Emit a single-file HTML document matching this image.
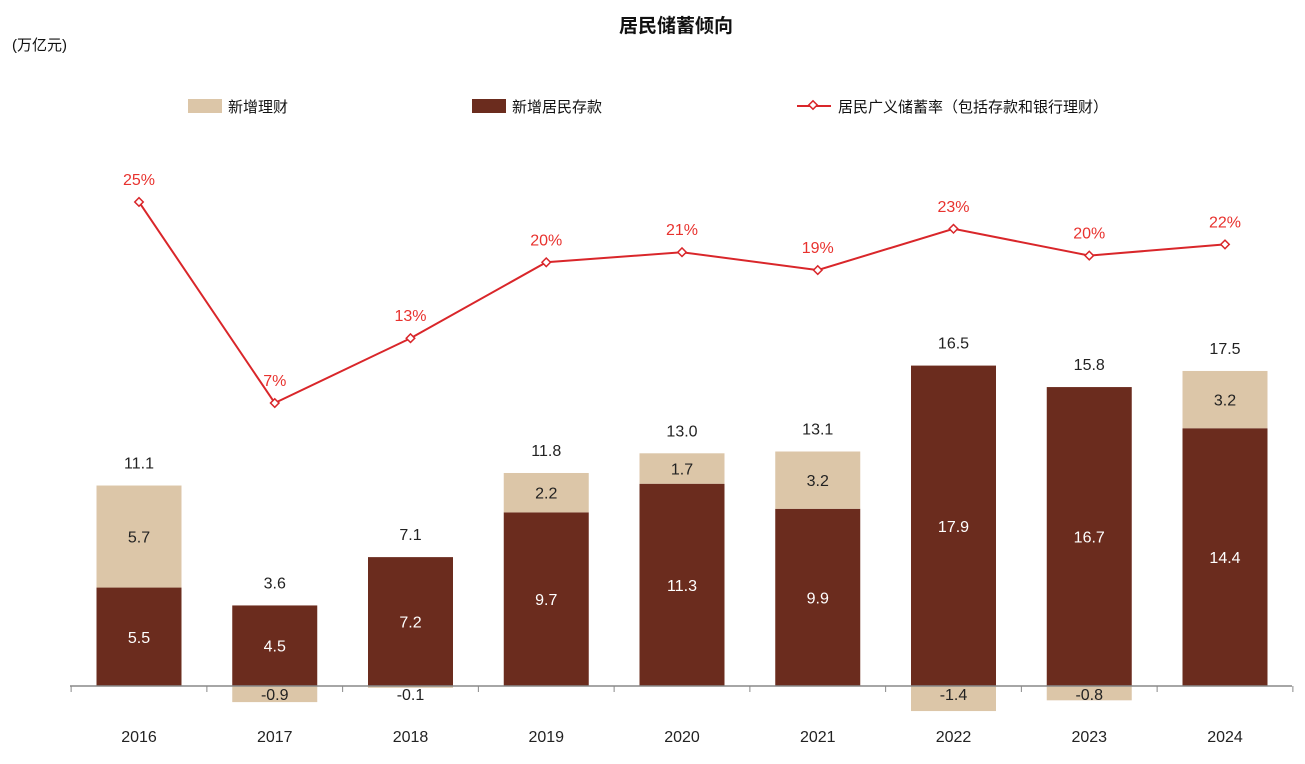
<!DOCTYPE html>
<html><head><meta charset="utf-8"><style>
html,body{margin:0;padding:0;background:#fff;}
body{width:1305px;height:759px;overflow:hidden;font-family:"Liberation Sans","Noto Sans CJK SC",sans-serif;}
</style></head><body>
<svg id="chart" width="1305" height="759" xmlns="http://www.w3.org/2000/svg" font-family="Liberation Sans, Noto Sans CJK SC, sans-serif">
<text x="676" y="32" text-anchor="middle" font-size="19" font-weight="bold" fill="#111">居民储蓄倾向</text>
<text x="12" y="50" font-size="15" fill="#111">(万亿元)</text>
<g>
<rect x="188" y="99" width="34" height="14" fill="#DCC6A8"/>
<text x="228" y="112" font-size="15" fill="#111">新增理财</text>
<rect x="472" y="99" width="34" height="14" fill="#6B2C1E"/>
<text x="512" y="112" font-size="15" fill="#111">新增居民存款</text>
<line x1="797" y1="106" x2="831" y2="106" stroke="#D9262A" stroke-width="2"/>
<rect x="810" y="102" width="6" height="6" transform="rotate(45 813 105)" fill="#fff" stroke="#D9262A" stroke-width="1.5"/>
<text x="838" y="112" font-size="15" fill="#111">居民广义储蓄率（包括存款和银行理财）</text>
</g>
<g id="plot"></g>
</svg>
<script>
const years=["2016","2017","2018","2019","2020","2021","2022","2023","2024"];
const deposits=[5.5,4.5,7.2,9.7,11.3,9.9,17.9,16.7,14.4];
const wealth=[5.7,-0.9,-0.1,2.2,1.7,3.2,-1.4,-0.8,3.2];
const totals=[11.1,3.6,7.1,11.8,13.0,13.1,16.5,15.8,17.5];
const rates=[25.0,7.0,12.8,19.6,20.5,18.9,22.6,20.2,21.2];
const rateLabels=["25%","7%","13%","20%","21%","19%","23%","20%","22%"];

const NS="http://www.w3.org/2000/svg";
const g=document.getElementById('plot');
const base=686, unit=17.9, x0=139, step=135.75, bw=85;
const xc=i=>x0+i*step;
const yv=v=>base-v*unit;
const yr=r=>481.2-r*11.17;
function mk(t,a){const e=document.createElementNS(NS,t);for(const k in a)e.setAttribute(k,a[k]);g.appendChild(e);return e;}
function txt(x,y,s,fill,size){const e=mk('text',{x:x,y:y,'text-anchor':'middle','font-size':size||15,fill:fill});e.textContent=s;return e;}

years.forEach((yr_,i)=>{
  const d=deposits[i], w=wealth[i], x=xc(i)-bw/2;
  const r1=mk('rect',{x:x,y:yv(d),width:bw,height:d*unit,fill:'#6B2C1E'});
  
  
  let wy,wh;
  if(w>=0){wy=yv(d+w);wh=w*unit;}else{wy=base;wh=-w*unit;}
  const r2=mk('rect',{x:x,y:wy,width:bw,height:wh,fill:'#DCC6A8'});
  
  
  const t1=txt(xc(i),yv(d/2)+6,d.toFixed(1),'#fff',16);
  
  
  const wl=txt(xc(i),w>=0?yv(d+w/2)+6:base+14,w.toFixed(1),'#222',16);
  
  
  const top=Math.max(d+Math.max(w,0),d);
  const tt=txt(xc(i),yv(top)-17,totals[i].toFixed(1),'#222',16);
  
  
  const xl=txt(xc(i),742,yr_,'#222',16);
  
  
});
const ax=mk('line',{x1:70,y1:base,x2:1292,y2:base,stroke:'#888','stroke-width':1.5});


for(let i=0;i<=years.length;i++){
  const tx=xc(i)-step/2;
  const tk=mk('line',{x1:tx,y1:base,x2:tx,y2:base+6,stroke:'#888'});
  
  
}
const pts=rates.map((r,i)=>xc(i)+','+yr(r)).join(' ');
const pl=mk('polyline',{points:pts,fill:'none',stroke:'#D9262A','stroke-width':2});


rates.forEach((r,i)=>{
  const y=yr(r);
  const m=mk('rect',{x:xc(i)-3,y:y-3,width:6,height:6,transform:`rotate(45 ${xc(i)} ${y})`,fill:'#fff',stroke:'#D9262A','stroke-width':1.5});
  
  
  const l=txt(xc(i),y-17,rateLabels[i],'#E8322E',16);
  
  
});
</script>
</body></html>
